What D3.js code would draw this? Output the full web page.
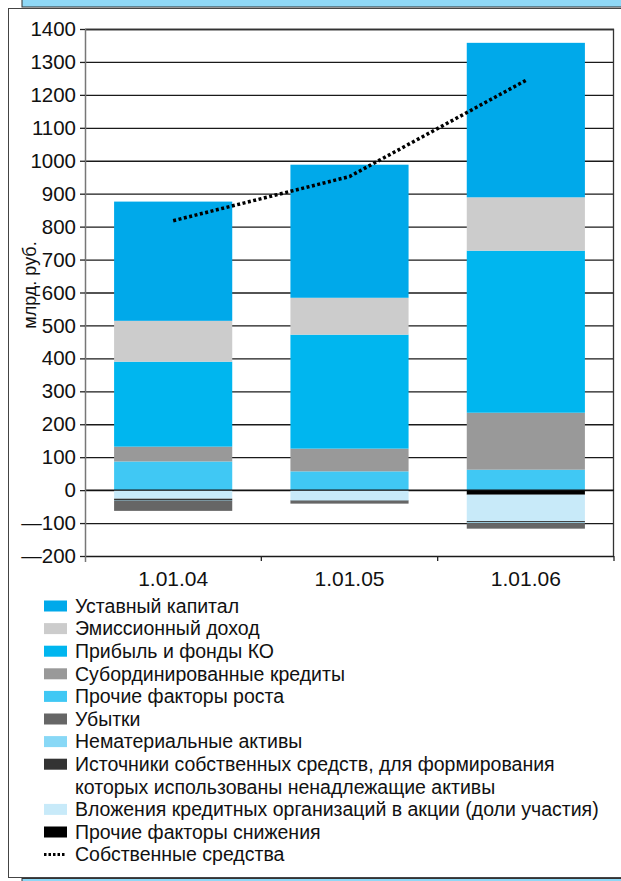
<!DOCTYPE html>
<html>
<head>
<meta charset="utf-8">
<script src="https://cdn.jsdelivr.net/npm/d3@7"></script>
<style>
  body { margin: 0; background: #fff; }
  svg { display: block; font-family: "Liberation Sans", Arial, sans-serif; }
</style>
</head>
<body>
<svg id="chart" width="621" height="881"></svg>
<script>
// data (млрд. руб.)
var categories = ["1.01.04", "1.01.05", "1.01.06"];
var ustavny = [362, 404, 469];        // Уставный капитал
var emission = [124, 112, 162];       // Эмиссионный доход
var pribyl = [258, 346, 492];         // Прибыль и фонды КО
var subord = [45, 69, 173];           // Субординированные кредиты
var prochieRost = [87, 57, 62];       // Прочие факторы роста
var ubytki = [-30, -9, -17];          // Убытки
var nemat = [-1, -1, -2];             // Нематериальные активы
var istochniki = [-6, -1, -4];        // Источники ... ненадлежащие активы
var vlozheniya = [-26, -30, -80];     // Вложения в акции
var prochieSnizh = [0, 0, -14];       // Прочие факторы снижения
var sobstvennye = [818, 952, 1244];   // Собственные средства (line)

var yTicks = [-200, -100, 0, 100, 200, 300, 400, 500, 600, 700, 800, 900, 1000, 1100, 1200, 1300, 1400];
var yTickLabels = ["\u2014200", "\u2014100", "0", "100", "200", "300", "400", "500", "600", "700", "800", "900", "1000", "1100", "1200", "1300", "1400"];

var legendNames = [
  "Уставный капитал",
  "Эмиссионный доход",
  "Прибыль и фонды КО",
  "Субординированные кредиты",
  "Прочие факторы роста",
  "Убытки",
  "Нематериальные активы",
  "Источники собственных средств, для формирования|которых использованы ненадлежащие активы",
  "Вложения кредитных организаций в акции (доли участия)",
  "Прочие факторы снижения",
  "Собственные средства"
];

// build stack table
var series = [
  {key: "Прочие факторы роста", values: prochieRost, color: "#40c8f4"},
  {key: "Субординированные кредиты", values: subord, color: "#999999"},
  {key: "Прибыль и фонды КО", values: pribyl, color: "#00b6ef"},
  {key: "Эмиссионный доход", values: emission, color: "#cccccc"},
  {key: "Уставный капитал", values: ustavny, color: "#00a9ea"},
  {key: "Прочие факторы снижения", values: prochieSnizh, color: "#000000"},
  {key: "Вложения кредитных организаций в акции (доли участия)", values: vlozheniya, color: "#c8eaf9"},
  {key: "Источники собственных средств, для формирования|которых использованы ненадлежащие активы", values: istochniki, color: "#333333"},
  {key: "Нематериальные активы", values: nemat, color: "#88d8f6"},
  {key: "Убытки", values: ubytki, color: "#666666"}
];
var colorOf = {};
series.forEach(function(s) { colorOf[s.key] = s.color; });

var table = categories.map(function(c, i) {
  var row = {cat: c};
  series.forEach(function(s) { row[s.key] = s.values[i]; });
  return row;
});

var svg = d3.select("#chart");

// frame and header bands
svg.append("rect").attr("x", 22).attr("y", -2).attr("width", 610).attr("height", 9)
  .attr("fill", "#8fd8f6").attr("stroke", "#333").attr("stroke-width", 1);
svg.append("rect").attr("x", 8.5).attr("y", 8.5).attr("width", 620).attr("height", 869)
  .attr("fill", "#fff").attr("stroke", "#444").attr("stroke-width", 1);
svg.append("rect").attr("x", 22).attr("y", 878.5).attr("width", 610).attr("height", 6)
  .attr("fill", "#8fd8f6").attr("stroke", "#333").attr("stroke-width", 1);

var margin = {top: 29, right: 7, bottom: 325, left: 85},
    width = 621 - margin.left - margin.right,
    height = 881 - margin.top - margin.bottom;

var x = d3.scaleBand().domain(categories).range([0, width]).paddingInner(0.33).paddingOuter(0.165);
var xb = d3.scaleBand().domain(categories).range([0, width]);
var y = d3.scaleLinear().domain([-200, 1400]).range([height, 0]);

var g = svg.append("g").attr("transform", "translate(" + margin.left + "," + margin.top + ")");

// gridlines
g.append("g")
  .attr("class", "grid")
  .call(d3.axisLeft(y).tickValues(yTicks).tickSize(-width).tickFormat(""))
  .call(function(s) {
    s.select(".domain").remove();
    s.selectAll("line").attr("stroke", "#1a1a1a").attr("stroke-width", 1.3);
  });

// plot border (top, right)
g.append("path")
  .attr("d", "M0,0.5H" + (width - 0.5) + "V" + height)
  .attr("fill", "none").attr("stroke", "#333").attr("stroke-width", 1.3);

// bars
var stack = d3.stack().keys(series.map(function(s) { return s.key; })).offset(d3.stackOffsetDiverging);
var stacked = stack(table);

g.selectAll("g.layer")
  .data(stacked)
  .enter().append("g")
  .attr("class", "layer")
  .attr("fill", function(d) { return colorOf[d.key]; })
  .selectAll("rect")
  .data(function(d) { return d; })
  .enter().append("rect")
  .attr("x", function(d) { return x(d.data.cat); })
  .attr("width", x.bandwidth())
  .attr("y", function(d) { return y(Math.max(d[0], d[1])); })
  .attr("height", function(d) { return Math.abs(y(d[0]) - y(d[1])); });

// zero line over bars
g.append("line")
  .attr("x1", 0).attr("x2", width).attr("y1", y(0)).attr("y2", y(0))
  .attr("stroke", "#111").attr("stroke-width", 1.3);

// line series
var line = d3.line()
  .x(function(d, i) { return x(categories[i]) + x.bandwidth() / 2; })
  .y(function(d) { return y(d); });

g.append("path")
  .datum(sobstvennye)
  .attr("d", line)
  .attr("fill", "none")
  .attr("stroke", "#000")
  .attr("stroke-width", 3.5)
  .attr("stroke-dasharray", "3,2.5");

// y axis
g.append("g")
  .call(d3.axisLeft(y).tickValues(yTicks).tickSize(5).tickPadding(4)
    .tickFormat(function(d, i) { return yTickLabels[i]; }))
  .call(function(s) {
    s.select(".domain").attr("stroke", "#777").attr("stroke-width", 1.5)
      .attr("d", "M0.5," + (height + 6) + "V0");
    s.selectAll("line").attr("stroke", "#222").attr("stroke-width", 1.3);
    s.selectAll("text").attr("font-size", 20.5).attr("fill", "#111")
      .attr("font-family", "\"Liberation Sans\", Arial, sans-serif");
  });

// x axis
var xAxis = g.append("g").attr("transform", "translate(0," + height + ")");
xAxis.selectAll("line.tick")
  .data(categories)
  .enter().append("line")
  .attr("x1", function(d) { return xb(d) + xb.bandwidth(); })
  .attr("x2", function(d) { return xb(d) + xb.bandwidth(); })
  .attr("y1", 0).attr("y2", 5)
  .attr("stroke", "#222").attr("stroke-width", 1.3);
xAxis.selectAll("text")
  .data(categories)
  .enter().append("text")
  .attr("x", function(d) { return x(d) + x.bandwidth() / 2; })
  .attr("y", 30)
  .attr("text-anchor", "middle")
  .attr("font-size", 21)
  .attr("fill", "#111")
  .text(function(d) { return d; });

// y label
svg.append("text")
  .attr("transform", "translate(36," + 285 + ") rotate(-90)")
  .attr("text-anchor", "middle")
  .attr("font-size", 18)
  .attr("fill", "#111")
  .text("млрд. руб.");

// legend
var legend = svg.append("g").attr("transform", "translate(44,606)");
var rowH = 22.6;
var rowIdx = 0;
legendNames.forEach(function(name, i) {
  var lines = name.split("|");
  var ly = rowIdx * rowH;
  var item = legend.append("g").attr("transform", "translate(0," + ly + ")");
  if (i === legendNames.length - 1) {
    item.append("line").attr("x1", 0).attr("x2", 22).attr("y1", 0).attr("y2", 0)
      .attr("stroke", "#000").attr("stroke-width", 3).attr("stroke-dasharray", "2.5,2");
  } else {
    item.append("rect").attr("x", 0).attr("y", -5.5).attr("width", 23).attr("height", 11)
      .attr("fill", colorOf[name]);
  }
  lines.forEach(function(t, j) {
    item.append("text")
      .attr("x", 31).attr("y", j * rowH)
      .attr("dy", "0.35em")
      .attr("font-size", 19.5)
      .attr("fill", "#111")
      .text(t);
  });
  rowIdx += lines.length;
});
</script>
</body>
</html>
